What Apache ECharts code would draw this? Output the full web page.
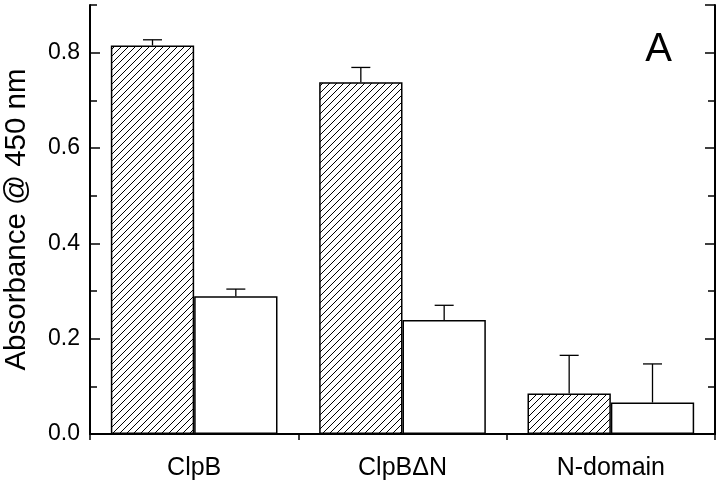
<!DOCTYPE html>
<html><head><meta charset="utf-8">
<script src="https://cdn.jsdelivr.net/npm/echarts@6/dist/echarts.min.js"></script>
<style>html,body{margin:0;padding:0;background:#fff}#c{width:720px;height:490px}</style>
</head><body><div id="c"></div>
<script>
const categories = ['ClpB', 'ClpB\u0394N', 'N-domain'];
const hatchedValues = [0.815, 0.738, 0.085];
const hatchedErrors = [0.012, 0.031, 0.080];
const openValues = [0.289, 0.239, 0.066];
const openErrors = [0.015, 0.031, 0.081];
const yTicks = [0, 0.2, 0.4, 0.6, 0.8];
const yAxisName = 'Absorbance @ 450 nm';
const panelLabel = 'A';

function hatchPattern() {
  const s = 7;
  const c = document.createElement('canvas');
  c.width = s; c.height = s;
  const g = c.getContext('2d');
  g.fillStyle = '#fff'; g.fillRect(0, 0, s, s);
  g.strokeStyle = '#000'; g.lineWidth = 1;
  g.beginPath();
  g.moveTo(-1, s + 1); g.lineTo(s + 1, -1);
  g.moveTo(-1, 1); g.lineTo(1, -1);
  g.moveTo(s - 1, s + 1); g.lineTo(s + 1, s - 1);
  g.stroke();
  return c;
}

const chart = echarts.init(document.getElementById('c'), null, {renderer: 'canvas'});
const font = 'Liberation Sans, Arial, sans-serif';
const yMin = 0, yMax = 0.9;

function errSeries(vals, errs, side) {
  return {
    type: 'custom',
    xAxisIndex: 0, yAxisIndex: 0,
    data: vals.map((v, i) => [i, v, errs[i]]),
    z: 1,
    renderItem: function (params, api) {
      const i = api.value(0), v = api.value(1), e = api.value(2);
      const band = api.size([1, 0])[0];
      const off = side * band * 0.2;
      const p0 = api.coord([i, v]);
      const p1 = api.coord([i, v + e]);
      const x = p0[0] + off;
      const half = 9.5;
      return {
        type: 'group',
        children: [
          {type: 'line', shape: {x1: x, y1: p0[1], x2: x, y2: p1[1]}, style: {stroke: '#000', lineWidth: 1.3}},
          {type: 'line', shape: {x1: x - half, y1: p1[1], x2: x + half, y2: p1[1]}, style: {stroke: '#000', lineWidth: 1.3}}
        ]
      };
    }
  };
}

const yCommon = {type: 'value', min: yMin, max: yMax, splitLine: {show: false}};
chart.setOption({
  animation: false,
  backgroundColor: '#fff',
  title: {text: panelLabel, right: 43, top: 25, textStyle: {fontFamily: font, fontSize: 40, fontWeight: 'normal', color: '#000'}},
  grid: {left: 90, right: 5, top: 5, bottom: 56, containLabel: false, outerBoundsMode: 'none'},
  xAxis: [
    {type: 'category', data: categories, position: 'bottom',
     axisLine: {lineStyle: {color: '#000', width: 2}},
     axisTick: {show: true, inside: false, length: 6, lineStyle: {color: '#000', width: 1.5}},
     axisLabel: {color: '#000', fontSize: 25, fontFamily: font, margin: 22}},
    {type: 'category', data: categories, position: 'top',
     axisLine: {lineStyle: {color: '#000', width: 2}},
     axisTick: {show: true, inside: true, length: 6, lineStyle: {color: '#000', width: 1.5}},
     axisLabel: {show: false}}
  ],
  yAxis: [
    Object.assign({}, yCommon, {position: 'left', interval: 0.2,
      name: yAxisName, nameLocation: 'middle', nameGap: 58,
      nameTextStyle: {color: '#000', fontSize: 29.5, fontFamily: font},
      axisLine: {show: true, lineStyle: {color: '#000', width: 2}},
      axisTick: {show: true, inside: true, length: 10, lineStyle: {color: '#000', width: 1.5}},
      axisLabel: {color: '#000', fontSize: 23, fontFamily: font, margin: 10, showMaxLabel: false,
        formatter: v => (yTicks.some(t => Math.abs(t - v) < 1e-9) ? v.toFixed(1) : '')}}),
    Object.assign({}, yCommon, {position: 'left', interval: 0.1,
      axisLine: {show: false},
      axisTick: {show: true, inside: true, length: 7, lineStyle: {color: '#000', width: 1.5}},
      axisLabel: {show: false}}),
    Object.assign({}, yCommon, {position: 'right', interval: 0.2,
      axisLine: {show: true, lineStyle: {color: '#000', width: 2}},
      axisTick: {show: true, inside: true, length: 10, lineStyle: {color: '#000', width: 1.5}},
      axisLabel: {show: false}}),
    Object.assign({}, yCommon, {position: 'right', interval: 0.1,
      axisLine: {show: false},
      axisTick: {show: true, inside: true, length: 7, lineStyle: {color: '#000', width: 1.5}},
      axisLabel: {show: false}})
  ],
  series: [
    errSeries(hatchedValues, hatchedErrors, -1),
    errSeries(openValues, openErrors, 1),
    {type: 'bar', name: 'hatched', data: hatchedValues, xAxisIndex: 0, yAxisIndex: 0,
     barGap: '0%', barCategoryGap: '20%', z: 2,
     itemStyle: {color: {image: hatchPattern(), repeat: 'repeat'}, borderColor: '#000', borderWidth: 1.5}},
    {type: 'bar', name: 'open', data: openValues, xAxisIndex: 0, yAxisIndex: 0,
     barGap: '0%', barCategoryGap: '20%', z: 2,
     itemStyle: {color: '#fff', borderColor: '#000', borderWidth: 1.5}}
  ]
});
</script></body></html>
